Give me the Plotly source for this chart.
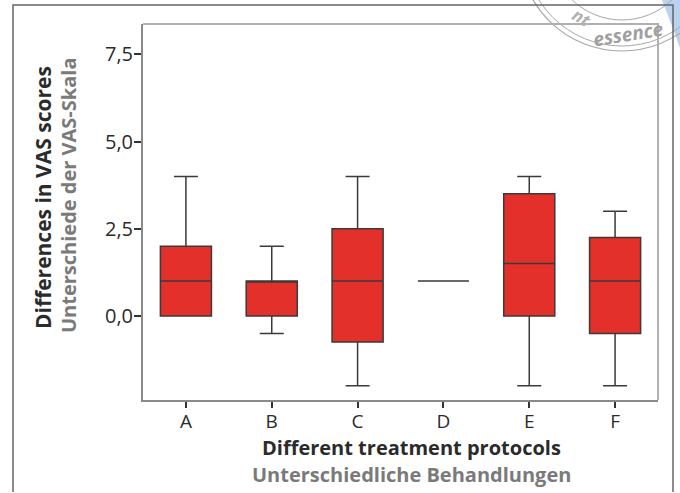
import plotly.graph_objects as go

categories = ["A", "B", "C", "D", "E", "F"]
lower_whisker = [0.0, -0.5, -2.0, 1.0, -2.0, -2.0]
q1_values = [0.0, 0.0, -0.75, 1.0, 0.0, -0.5]
median_values = [1.0, 1.0, 1.0, 1.0, 1.5, 1.0]
q3_values = [2.0, 1.0, 2.5, 1.0, 3.5, 2.25]
upper_whisker = [4.0, 2.0, 4.0, 1.0, 4.0, 3.0]
y_tickvals = [0.0, 2.5, 5.0, 7.5]
y_ticktext = ["0,0", "2,5", "5,0", "7,5"]

W, H = 680, 493
L, R, T, B = 143, 22, 24, 93
pw, ph = W - L - R, H - T - B

def px(x):
    return (x - L) / pw

def py(y):
    return (H - B - y) / ph

FONT = "Open Sans"
DARK = "#2b2b2b"
GRAY = "#7a7a7a"

fig = go.Figure()
fig.add_trace(go.Box(
    x=categories,
    q1=q1_values,
    median=median_values,
    q3=q3_values,
    lowerfence=lower_whisker,
    upperfence=upper_whisker,
    fillcolor="#E3302B",
    line=dict(color="#3a3a3a", width=1.5),
    whiskerwidth=0.47,
    boxpoints=False,
    showlegend=False,
    hoverinfo="skip",
))

fig.update_layout(
    width=W, height=H,
    margin=dict(l=L, r=R, t=T, b=B),
    paper_bgcolor="white",
    plot_bgcolor="white",
    boxgap=0.15,
    font=dict(family=FONT, color=DARK),
    xaxis=dict(
        type="category",
        range=[-0.5, 5.5],
        showgrid=False, zeroline=False,
        showline=True, linecolor="#8a8a8a", linewidth=2, mirror=False,
        ticks="outside", ticklen=6, tickwidth=2, tickcolor="#333",
        ticklabelstandoff=-3,
        tickfont=dict(size=19, color=DARK, family=FONT),
    ),
    yaxis=dict(
        range=[-2.41, 8.37],
        tickvals=y_tickvals, ticktext=y_ticktext,
        showgrid=False, zeroline=False,
        showline=True, linecolor="#8a8a8a", linewidth=2,
        ticks="outside", ticklen=7, tickwidth=2, tickcolor="#333",
        ticklabelstandoff=-3,
        tickfont=dict(size=20, color=DARK, family=FONT),
    ),
)

# plot frame (top/right lighter)
fig.add_shape(type="path", xref="paper", yref="paper",
              path="M 0,1 L 1,1 L 1,0",
              line=dict(color="#b0b0b0", width=2))

# watermark (publisher stamp, top right)
fig.add_shape(type="path", xref="paper", yref="paper",
              path=f"M {px(662)},{py(0)} L {px(680)},{py(0)} L {px(680)},{py(48)} Q {px(672)},{py(25)} {px(662)},{py(0)} Z",
              fillcolor="#b9d2ee", line=dict(width=0), layer="below")
for r_, w_ in [(103, 1.2), (98, 1.0), (72, 1.0)]:
    fig.add_shape(type="circle", xref="paper", yref="paper",
                  x0=px(622 - r_), x1=px(622 + r_), y0=py(-52 - r_), y1=py(-52 + r_),
                  line=dict(color="#a8a8a8", width=w_), layer="below")
fig.add_annotation(xref="paper", yref="paper", x=px(628), y=py(34), showarrow=False,
                   xanchor="center", yanchor="middle", textangle=-9,
                   text="<b><i>essence</i></b>",
                   font=dict(size=19, color="#a0a0a0", family=FONT))
fig.add_annotation(xref="paper", yref="paper", x=px(582), y=py(17), showarrow=False,
                   xanchor="center", yanchor="middle", textangle=30,
                   text="<b><i>nt</i></b>",
                   font=dict(size=17, color="#b0b0b0", family=FONT))

# outer figure frame
fig.add_shape(type="path", xref="paper", yref="paper",
              path=f"M {px(13)},{py(492)} L {px(13)},{py(5)} L {px(673)},{py(5)} L {px(673)},{py(492)}",
              line=dict(color="#666", width=1.5))

# axis titles
common = dict(xref="paper", yref="paper", showarrow=False,
              xanchor="center", yanchor="middle")
fig.add_annotation(x=px(43), y=py(198), text="<b>Differences in VAS scores</b>",
                   textangle=-90, font=dict(size=21, color=DARK, family=FONT), **common)
fig.add_annotation(x=px(68), y=py(196), text="<b>Unterschiede der VAS-Skala</b>",
                   textangle=-90, font=dict(size=20, color=GRAY, family=FONT), **common)
fig.add_annotation(x=px(411), y=py(447), text="<b>Different treatment protocols</b>",
                   font=dict(size=20, color=DARK, family=FONT), **common)
fig.add_annotation(x=px(411), y=py(474), text="<b>Unterschiedliche Behandlungen</b>",
                   font=dict(size=20, color=GRAY, family=FONT), **common)

fig.write_html("out.html", config={"displayModeBar": False},
               post_script="document.body.style.margin='0';")
